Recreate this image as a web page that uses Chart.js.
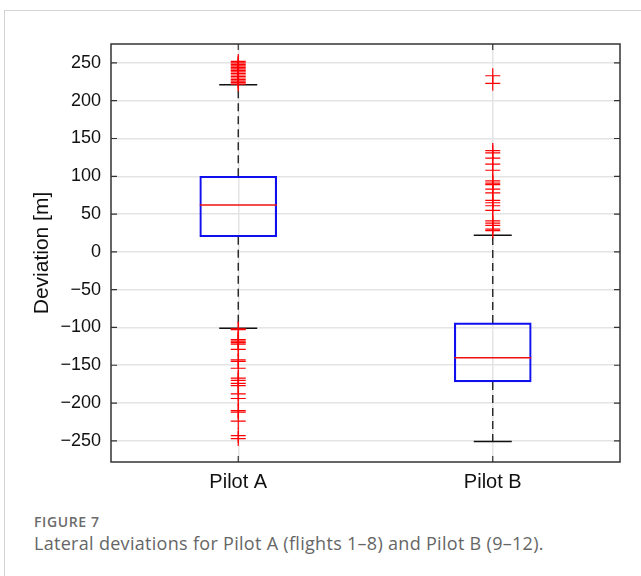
<!DOCTYPE html>
<html>
<head>
<meta charset="utf-8">
<script src="https://cdn.jsdelivr.net/npm/chart.js@4.4.1/dist/chart.umd.min.js"></script>
<style>
  html, body { margin: 0; padding: 0; background: #fff; }
  #wrap { position: relative; width: 641px; height: 576px; overflow: hidden; }
  #frame { position: absolute; left: 4px; top: 10px; width: 700px; height: 600px;
           border-left: 1px solid #d4d4d4; border-top: 1px solid #d4d4d4; }
  #chart { position: absolute; left: 0; top: 0; }
  #fig { position: absolute; left: 34px; top: 512px; font-family: "Open Sans", sans-serif;
         font-size: 14px; font-weight: 600; color: #6b6b6b; letter-spacing: 0.6px; }
  #cap { position: absolute; left: 34px; top: 531px; font-family: "Open Sans", sans-serif;
         font-size: 18px; font-weight: 400; color: #666; letter-spacing: 0.3px; white-space: nowrap; }
</style>
</head>
<body>
<div id="wrap">
  <div id="frame"></div>
  <canvas id="chart" width="641" height="500"></canvas>
  <div id="fig">FIGURE 7</div>
  <div id="cap">Lateral deviations for Pilot A (flights 1–8) and Pilot B (9–12).</div>
</div>
<script>
const categories = ["Pilot A", "Pilot B"];
const q1 = [20, -172];
const q3 = [100, -94];
const medians = [62, -140];
const whiskerLow = [-101, -251];
const whiskerHigh = [221, 22];
const outliersA = [
  252, 250, 248, 246, 244, 242, 240, 238, 236, 234, 232, 230, 228, 226, 224, 222,
  -102, -103, -116, -118, -120, -122, -129, -143, -145, -154, -167, -170, -174, -177,
  -188, -194, -210, -212, -224, -243, -247
];
const outliersB = [
  233, 223, 134, 131, 124, 116, 108, 94, 91, 89, 83, 78, 68, 65, 61, 55, 41, 38, 35, 30, 28
];
const yTicks = [250, 200, 150, 100, 50, 0, -50, -100, -150, -200, -250];

const outlierData = [];
outliersA.forEach(v => outlierData.push({ x: categories[0], y: v }));
outliersB.forEach(v => outlierData.push({ x: categories[1], y: v }));

const whiskerData = [];
categories.forEach((c, i) => {
  whiskerData.push({ x: c, y: q3[i] }, { x: c, y: whiskerHigh[i] }, { x: c, y: null });
  whiskerData.push({ x: c, y: q1[i] }, { x: c, y: whiskerLow[i] }, { x: c, y: null });
});

const capData = [];
categories.forEach((c, i) => {
  capData.push({ x: c, y: whiskerHigh[i] }, { x: c, y: whiskerLow[i] });
});

// frame with inward ticks on all four sides
const framePlugin = {
  id: "frame",
  afterDatasetsDraw(chart) {
    const { ctx, chartArea: a, scales } = chart;
    ctx.save();
    ctx.strokeStyle = "#333";
    ctx.lineWidth = 1.5;
    ctx.strokeRect(a.left, a.top, a.right - a.left, a.bottom - a.top);
    ctx.lineWidth = 1.2;
    ctx.beginPath();
    yTicks.forEach(v => {
      const y = scales.y.getPixelForValue(v);
      ctx.moveTo(a.left, y); ctx.lineTo(a.left + 6, y);
      ctx.moveTo(a.right, y); ctx.lineTo(a.right - 6, y);
    });
    categories.forEach((c, i) => {
      const x = scales.x.getPixelForValue(i);
      ctx.moveTo(x, a.top); ctx.lineTo(x, a.top + 6);
      ctx.moveTo(x, a.bottom); ctx.lineTo(x, a.bottom - 6);
    });
    ctx.stroke();
    ctx.restore();
  }
};

new Chart(document.getElementById("chart"), {
  type: "bar",
  data: {
    labels: categories,
    datasets: [
      {
        type: "scatter",
        data: outlierData,
        pointStyle: "cross",
        radius: 7.5,
        borderColor: "#ff0000",
        borderWidth: 1.2,
        order: 0
      },
      {
        type: "scatter",
        data: medians.map((v, i) => ({ x: categories[i], y: v })),
        pointStyle: "line",
        radius: 38.5,
        borderColor: "#ee1010",
        borderWidth: 1.6,
        order: 1
      },
      {
        type: "scatter",
        data: capData,
        pointStyle: "line",
        radius: 19,
        borderColor: "#111",
        borderWidth: 1.5,
        order: 2
      },
      {
        data: q1.map((v, i) => [v, q3[i]]),
        backgroundColor: "rgba(0,0,0,0)",
        borderColor: "#1010ee",
        borderWidth: 1.5,
        borderSkipped: false,
        barThickness: 77,
        order: 3
      },
      {
        type: "line",
        data: whiskerData,
        borderColor: "#222",
        borderWidth: 1.4,
        borderDash: [8, 5],
        pointRadius: 0,
        spanGaps: false,
        order: 4
      }
    ]
  },
  options: {
    responsive: false,
    animation: false,
    layout: { autoPadding: false, padding: { top: 44, right: 21, left: 0, bottom: 0 } },
    plugins: { legend: { display: false }, tooltip: { enabled: false } },
    scales: {
      x: {
        type: "category",
        offset: true,
        grid: { offset: false, color: "#e4e4e4", lineWidth: 1.5, drawTicks: false },
        border: { display: false },
        ticks: { padding: 8, color: "#111", font: { family: "Liberation Sans", size: 20 } },
        afterFit(scale) { scale.height = 500 - 462; }
      },
      y: {
        min: -278,
        max: 275,
        afterBuildTicks(scale) { scale.ticks = yTicks.map(v => ({ value: v })); },
        grid: { color: "#e4e4e4", lineWidth: 1.5, drawTicks: false },
        border: { display: false },
        ticks: {
          padding: 10,
          color: "#111",
          font: { family: "Liberation Sans", size: 18 },
          callback: v => String(v).replace("-", "\u2212")
        },
        title: {
          display: true,
          text: "Deviation [m]",
          color: "#111",
          font: { family: "Liberation Sans", size: 21 },
          padding: { top: 30, bottom: 0 }
        },
        afterFit(scale) { scale.width = 111; }
      }
    }
  },
  plugins: [framePlugin]
});
</script>
</body>
</html>
